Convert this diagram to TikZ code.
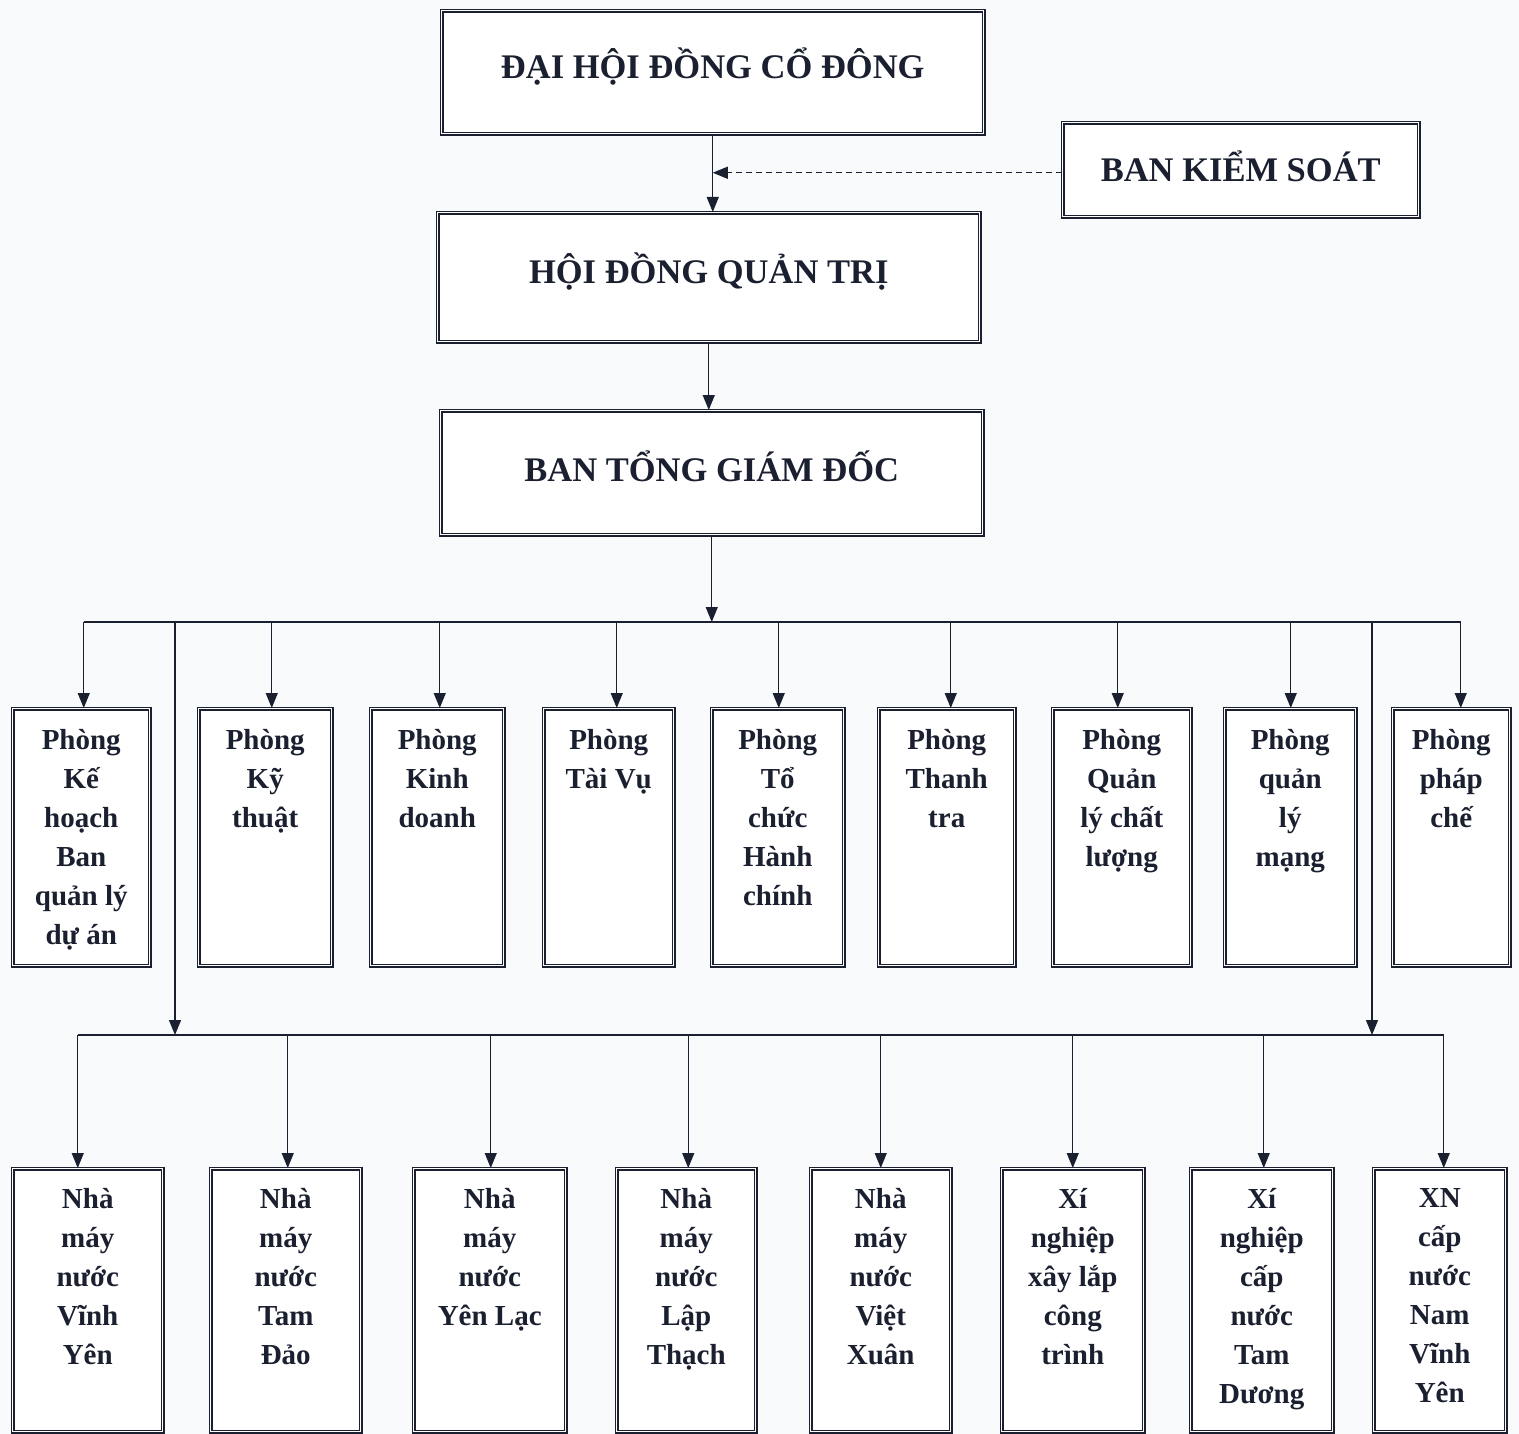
\documentclass[tikz,border=0pt]{standalone}
\usepackage{fontspec}
\setmainfont{Liberation Serif}
\usetikzlibrary{arrows.meta}
\definecolor{ink}{HTML}{1B2030}
\definecolor{bg}{HTML}{F8FAFC}
\begin{document}
\begin{tikzpicture}[x=1pt,y=-1pt,
  box/.style={draw=ink, line width=1.5pt, double=white, double distance=1.2pt, fill=white, anchor=north west, inner sep=0pt},
  head/.style={text=ink, font=\fontsize{34.5}{40}\selectfont\bfseries},
  txt/.style={text=ink, font=\fontsize{29}{39}\selectfont\bfseries, align=center, anchor=north, inner sep=0pt},
  conn/.style={draw=ink, line width=1.3pt},
  arr/.style={conn, -{Triangle[length=15pt,width=12pt]}}]
\fill[bg] (0,0) rectangle (1519,1434);
\useasboundingbox (0,0) rectangle (1519,1434);
% top boxes
\node[box, minimum width=542pt, minimum height=123pt] (dh) at (441,10) {};
\node[head] (dht) at ([yshift=6pt]dh.center) {ĐẠI HỘI ĐỒNG CỔ ĐÔNG};
\node[box, minimum width=356pt, minimum height=94pt] (bks) at (1062,122) {};
\node[head] (bkst) at ([yshift=3pt]bks.center) {BAN KIỂM SOÁT};
\node[box, minimum width=542pt, minimum height=129pt] (hd) at (437,212) {};
\node[head] (hdt) at ([yshift=6pt]hd.center) {HỘI ĐỒNG QUẢN TRỊ};
\node[box, minimum width=542pt, minimum height=124pt] (bt) at (440,410) {};
\node[head] (btt) at ([yshift=6pt]bt.center) {BAN TỔNG GIÁM ĐỐC};
% department boxes
\foreach \n/\x/\w in {p1/12/137, p2/198/133, p3/370/133, p4/543/130, p5/711/132, p6/878/136, p7/1052/138, p8/1224/131, p9/1392/117}
  \node[box, minimum width=\w pt, minimum height=257pt] (\n) at (\x,708) {};
\node[txt] (p1t) at ([yshift=-21pt]p1.north) {Phòng\\Kế\\hoạch\\Ban\\quản lý\\dự án};
\node[txt] (p2t) at ([yshift=-21pt]p2.north) {Phòng\\Kỹ\\thuật};
\node[txt] (p3t) at ([yshift=-21pt]p3.north) {Phòng\\Kinh\\doanh};
\node[txt] (p4t) at ([yshift=-21pt]p4.north) {Phòng\\Tài Vụ};
\node[txt] (p5t) at ([yshift=-21pt]p5.north) {Phòng\\Tổ\\chức\\Hành\\chính};
\node[txt] (p6t) at ([yshift=-21pt]p6.north) {Phòng\\Thanh\\tra};
\node[txt] (p7t) at ([yshift=-21pt]p7.north) {Phòng\\Quản\\lý chất\\lượng};
\node[txt] (p8t) at ([yshift=-21pt]p8.north) {Phòng\\quản\\lý\\mạng};
\node[txt] (p9t) at ([yshift=-21pt]p9.north) {Phòng\\pháp\\chế};
% unit boxes
\foreach \n/\x/\w in {n1/12/150, n2/210/150, n3/413/152, n4/616/139, n5/810/140, n6/1001/142, n7/1190/142, n8/1373/132}
  \node[box, minimum width=\w pt, minimum height=263pt] (\n) at (\x,1168) {};
\node[txt] (n1t) at ([yshift=-20pt]n1.north) {Nhà\\máy\\nước\\Vĩnh\\Yên};
\node[txt] (n2t) at ([yshift=-20pt]n2.north) {Nhà\\máy\\nước\\Tam\\Đảo};
\node[txt] (n3t) at ([yshift=-20pt]n3.north) {Nhà\\máy\\nước\\Yên Lạc};
\node[txt] (n4t) at ([yshift=-20pt]n4.north) {Nhà\\máy\\nước\\Lập\\Thạch};
\node[txt] (n5t) at ([yshift=-20pt]n5.north) {Nhà\\máy\\nước\\Việt\\Xuân};
\node[txt] (n6t) at ([yshift=-20pt]n6.north) {Xí\\nghiệp\\xây lắp\\công\\trình};
\node[txt] (n7t) at ([yshift=-20pt]n7.north) {Xí\\nghiệp\\cấp\\nước\\Tam\\Dương};
\node[txt] (n8t) at ([yshift=-20pt]n8.north) {XN\\cấp\\nước\\Nam\\Vĩnh\\Yên};
% connectors top
\draw[arr] (dh.south) -- (dh.south |- hd.north);
\draw[arr, dashed, dash pattern=on 6pt off 4pt] (bks.west) ++(0,3) coordinate (bksw) -- (dh.south |- bksw);
\draw[arr] (hd.south) -- (hd.south |- bt.north);
\coordinate (bus1) at (708,622);
\coordinate (bus2) at (175,1035);
\coordinate (br1) at (175,622);
\coordinate (br2) at (1372,622);
\draw[arr] (bt.south) -- (bt.south |- bus1);
\draw[conn] ([xshift=2.5pt]p1.north |- bus1) -- ([xshift=9.5pt]p9.north |- bus1);
\foreach \n/\d in {p1/2.5,p2/6.5,p3/2.5,p4/8,p5/1,p6/4,p7/-4,p8/0.5,p9/9.5}
  \draw[arr] ([xshift=\d pt]\n.north |- bus1) -- ([xshift=\d pt]\n.north);
\draw[arr] (br1) -- (br1 |- bus2);
\draw[arr] (br2) -- (br2 |- bus2);
\draw[conn] ([xshift=-10pt]n1.north |- bus2) -- ([xshift=4pt]n8.north |- bus2);
\foreach \n/\d in {n1/-10,n2/2,n3/1,n4/2,n5/0,n6/0,n7/2,n8/4}
  \draw[arr] ([xshift=\d pt]\n.north |- bus2) -- ([xshift=\d pt]\n.north);
\end{tikzpicture}
\end{document}
